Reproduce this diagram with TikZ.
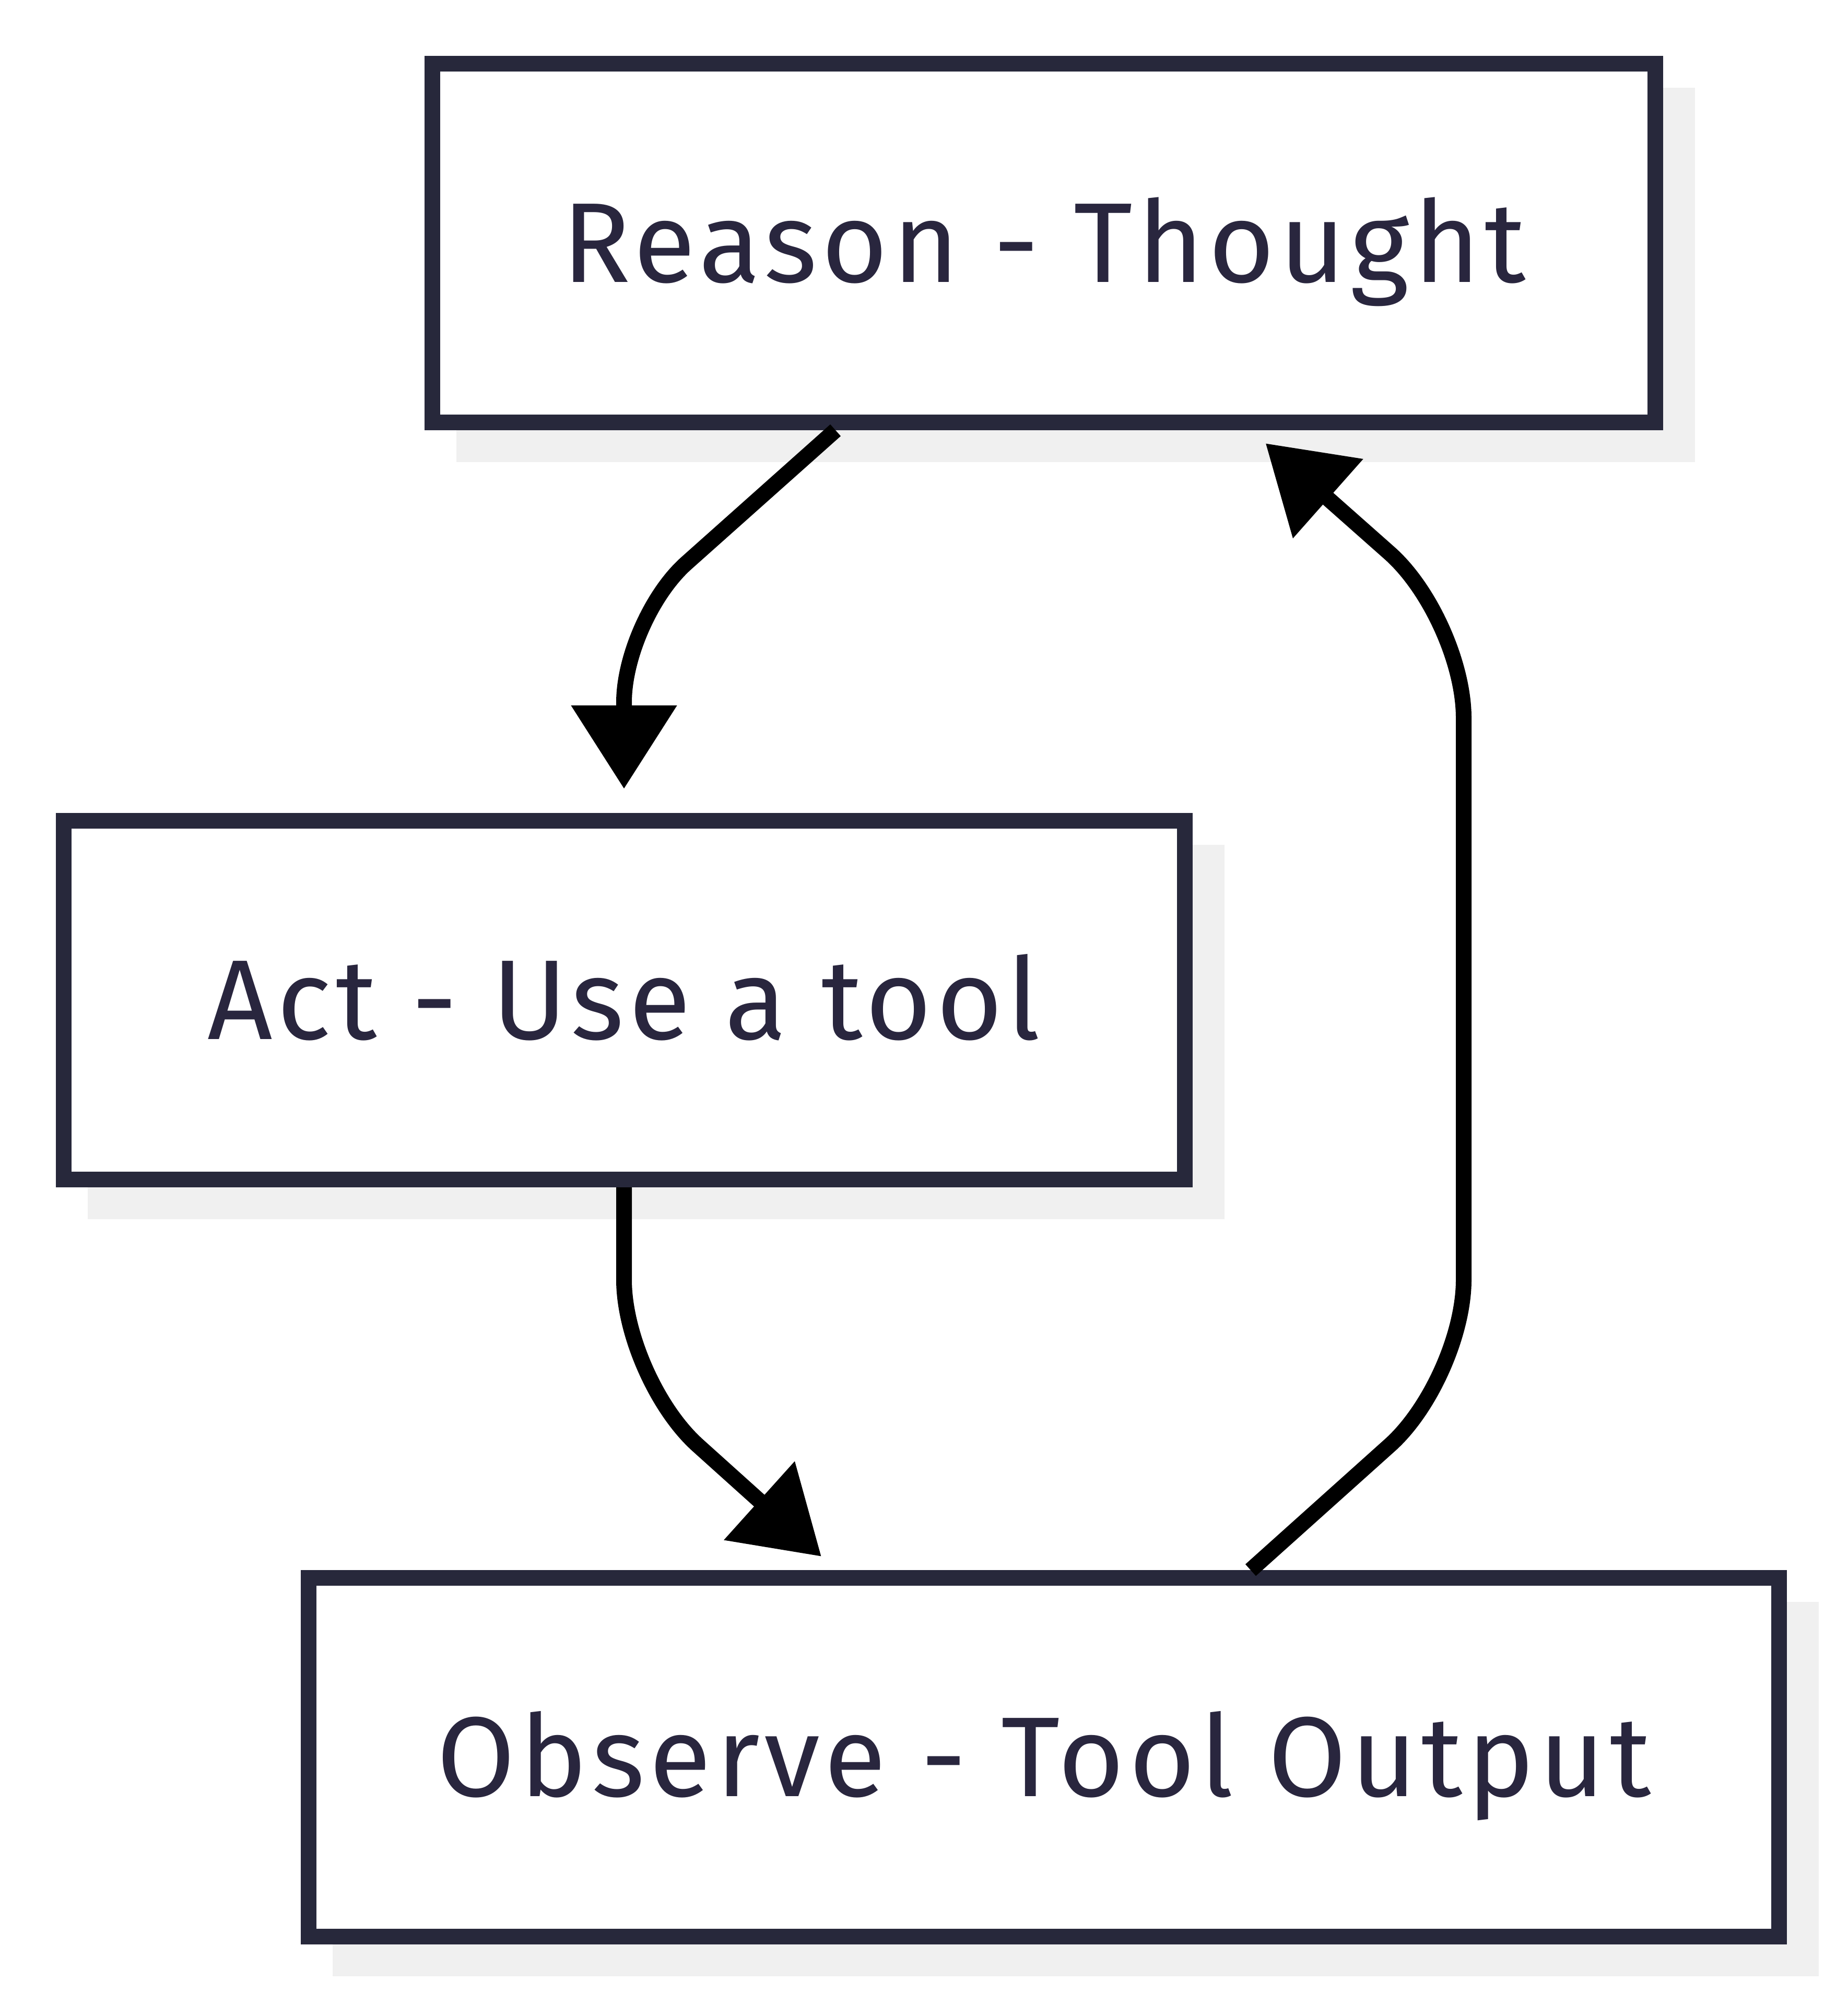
\documentclass[tikz,border=0pt]{standalone}
\usepackage{fontspec}
\setmainfont{Fira Sans}[LetterSpace=4.0]
\usetikzlibrary{arrows.meta,shadows}
\definecolor{boxline}{HTML}{27283B}
\definecolor{boxtext}{HTML}{29263E}
\definecolor{boxshadow}{HTML}{F0F0F0}
\begin{document}
\begin{tikzpicture}
[every node/.style={inner sep=0pt},
 loopbox/.style={rectangle, minimum height=137.4pt, text height=30pt, text depth=0pt, fill=white, line width=6pt, draw=boxline,
   font=\fontsize{43.5pt}{52pt}\selectfont,
   drop shadow={shadow xshift=12.2pt, shadow yshift=-12.2pt, fill=boxshadow, draw=boxshadow, line width=6pt, opacity=1}}]
\useasboundingbox (0pt, 0pt) rectangle (707.6pt, -768pt);
\node (reason) [loopbox, minimum width=468.4pt] at (399.8pt, -93.1pt) {\textcolor{boxtext}{Reason - Thought}};
\node (act) [loopbox, minimum width=429.4pt] at (239.0pt, -383.1pt) {\textcolor{boxtext}{Act - Use a tool}};
\node (observe) [loopbox, minimum width=563.2pt] at (399.8pt, -673.1pt) {\textcolor{boxtext}{Observe - Tool Output}};
\draw [line width=6pt, -{Triangle[length=32pt, width=39pt]}, rounded corners=32pt, color=black] ([xshift=-79.8pt]reason.south) -- (239.0pt, -237.0pt) -- ([yshift=9.2pt]act.north);
\draw [line width=6pt, -{Triangle[length=32pt, width=39pt]}, rounded corners=38pt, color=black] (act.south) -- (239.0pt, -528.2pt) -- ([xshift=-85.2pt, yshift=5.2pt]observe.north);
\draw [line width=6pt, -{Triangle[length=32pt, width=39pt]}, rounded corners=38pt, color=black] ([xshift=79.2pt]observe.north) -- (560.6pt, -528.2pt) -- (560.6pt, -237.0pt) -- ([xshift=84.9pt, yshift=-5.0pt]reason.south);
\end{tikzpicture}
\end{document}
